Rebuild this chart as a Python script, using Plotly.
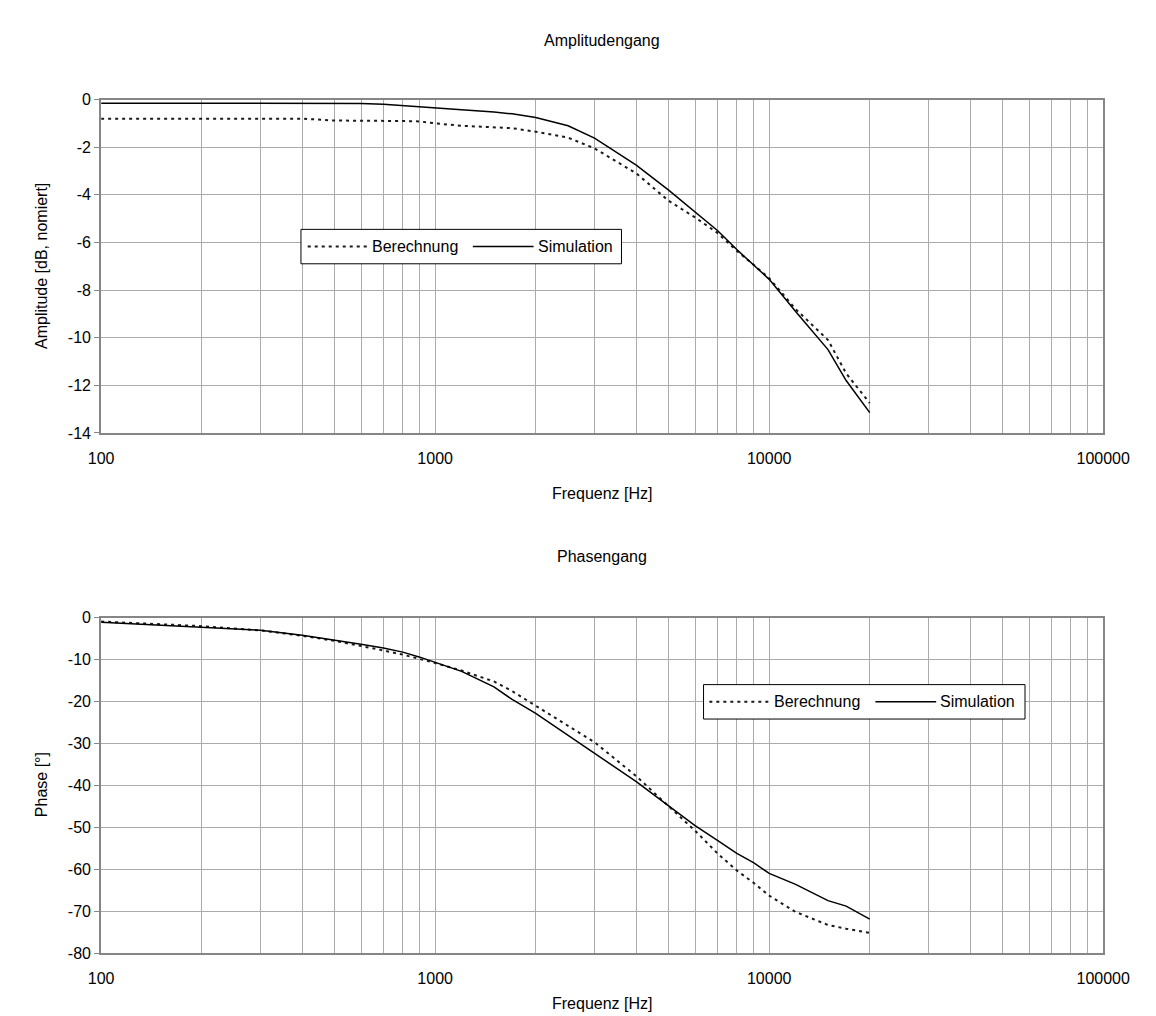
import plotly.graph_objects as go

# ---------------- data ----------------
freq = [100, 200, 300, 400, 500, 600, 700, 800, 900, 1000, 1200, 1500, 1700,
        2000, 2500, 3000, 4000, 5000, 6000, 7000, 8000, 9000, 10000, 12000,
        15000, 17000, 20000]

amp_berechnung = [-0.8, -0.8, -0.8, -0.8, -0.88, -0.88, -0.9, -0.9, -0.92, -1.0,
                  -1.1, -1.15, -1.2, -1.35, -1.6, -2.05, -3.1, -4.25, -4.95,
                  -5.6, -6.35, -6.95, -7.5, -8.8, -10.1, -11.5, -12.75]
amp_simulation = [-0.15, -0.15, -0.15, -0.15, -0.15, -0.16, -0.2, -0.25, -0.3,
                  -0.35, -0.43, -0.52, -0.6, -0.75, -1.1, -1.62, -2.75, -3.8,
                  -4.7, -5.5, -6.3, -6.95, -7.55, -8.9, -10.5, -11.8, -13.15]

phase_berechnung = [-0.9, -2.0, -3.0, -4.3, -5.5, -6.7, -7.8, -8.8, -9.8, -10.8,
                    -12.6, -15.2, -17.5, -21.0, -25.8, -29.7, -37.8, -45.0,
                    -50.8, -56.2, -60.3, -63.3, -66.3, -70.2, -73.3, -74.2, -75.2]
phase_simulation = [-1.1, -2.2, -3.0, -4.2, -5.3, -6.3, -7.2, -8.2, -9.4, -10.6,
                    -12.8, -16.5, -19.5, -22.8, -28.0, -32.3, -39.1, -44.9,
                    -49.6, -53.1, -56.2, -58.5, -61.0, -63.6, -67.5, -68.8, -71.9]

series_names = ["Berechnung", "Simulation"]
x_major = [100, 1000, 10000, 100000]
amp_ticks = [0, -2, -4, -6, -8, -10, -12, -14]
phase_ticks = [0, -10, -20, -30, -40, -50, -60, -70, -80]

# all log grid positions (1..9 per decade)
x_grid = [m * d for d in (100, 1000, 10000) for m in range(1, 10)] + [100000]
x_text = [str(v) if v in x_major else "" for v in x_grid]

# ---------------- figure ----------------
W, H = 1156, 1016
FONT = "Liberation Sans, Arial, sans-serif"
FS = 16
GRID = "#ababab"
FRAME = "#868686"

def px_x(p):
    return p / W

def px_y(p):
    return 1 - p / H

fig = go.Figure()

dash_style = dict(color="#1a1a1a", width=2, dash="3px,4px")
solid_style = dict(color="#000000", width=1.5)
styles = [dash_style, solid_style]

for ys, xa, ya in ((amp_berechnung, "x", "y"), (amp_simulation, "x", "y"),
                   (phase_berechnung, "x2", "y2"), (phase_simulation, "x2", "y2")):
    idx = 0 if ys in (amp_berechnung, phase_berechnung) else 1
    fig.add_trace(go.Scatter(x=freq, y=ys, mode="lines", name=series_names[idx],
                             line=styles[idx], xaxis=xa, yaxis=ya, showlegend=False))

xdom = [px_x(83), px_x(1121)]

xaxis_common = dict(
    type="log", range=[2, 5], domain=xdom,
    tickvals=x_grid, ticktext=x_text,
    showgrid=True, gridcolor=GRID, gridwidth=1,
    showline=True, linecolor=FRAME, linewidth=2, mirror=True,
    ticks="", ticklabelstandoff=10,
    tickfont=dict(family=FONT, size=FS, color="#000"),
    zeroline=False, fixedrange=True,
)
yaxis_common = dict(
    showgrid=True, gridcolor=GRID, gridwidth=1,
    showline=True, linecolor=FRAME, linewidth=2, mirror=True,
    ticks="outside", ticklen=5, tickcolor=FRAME, tickwidth=1,
    tickfont=dict(family=FONT, size=FS, color="#000"),
    zeroline=False, fixedrange=True,
)

fig.update_layout(
    width=W, height=H,
    margin=dict(l=0, r=0, t=0, b=0),
    paper_bgcolor="white", plot_bgcolor="white",
    font=dict(family=FONT, size=FS, color="#000"),
    xaxis=dict(**xaxis_common, anchor="y"),
    yaxis=dict(**yaxis_common, domain=[px_y(424), px_y(85)], range=[-14, 0],
               tickvals=amp_ticks, ticktext=[str(v) for v in amp_ticks], anchor="x"),
    xaxis2=dict(**xaxis_common, anchor="y2"),
    yaxis2=dict(**yaxis_common, domain=[px_y(953), px_y(612)], range=[-80, 0],
                tickvals=phase_ticks, ticktext=[str(v) for v in phase_ticks], anchor="x2"),
    showlegend=False,
)

ann_font = dict(family=FONT, size=FS, color="#000")
annotations = [
    dict(text="Amplitudengang", x=px_x(602), y=px_y(25)),
    dict(text="Frequenz [Hz]", x=px_x(602), y=px_y(486)),
    dict(text="Phasengang", x=px_x(602), y=px_y(550)),
    dict(text="Frequenz [Hz]", x=px_x(602), y=px_y(1004)),
    dict(text="Amplitude [dB, nomiert]", x=px_x(22), y=px_y(254), textangle=-90),
    dict(text="Phase [°]", x=px_x(22), y=px_y(782), textangle=-90),
]
for a in annotations:
    fig.add_annotation(xref="paper", yref="paper", showarrow=False,
                       xanchor="center", yanchor="middle", font=ann_font, **a)

# ---------------- legends (box, line samples, labels) ----------------
def add_legend(x0, x1, y0, y1, samples):
    fig.add_shape(type="rect", xref="paper", yref="paper",
                  x0=px_x(x0), x1=px_x(x1), y0=px_y(y1), y1=px_y(y0),
                  line=dict(color="#000", width=1), fillcolor="white", layer="above")
    ym = (y0 + y1) / 2
    for (sx0, sx1, tx), name, st in zip(samples, series_names, styles):
        fig.add_shape(type="line", xref="paper", yref="paper",
                      x0=px_x(sx0), x1=px_x(sx1), y0=px_y(ym), y1=px_y(ym),
                      line=dict(color=st["color"], width=st["width"],
                                dash=st.get("dash", "solid")), layer="above")
        fig.add_annotation(xref="paper", yref="paper", showarrow=False,
                           x=px_x(tx), y=px_y(ym), xanchor="left", yanchor="middle",
                           text=name, font=ann_font)

add_legend(290, 622, 217, 252, [(297, 359, 361), (468, 531, 533)])
add_legend(707, 1040, 680, 715, [(713, 776, 778), (885, 948, 950)])

fig.write_html("out.html")
